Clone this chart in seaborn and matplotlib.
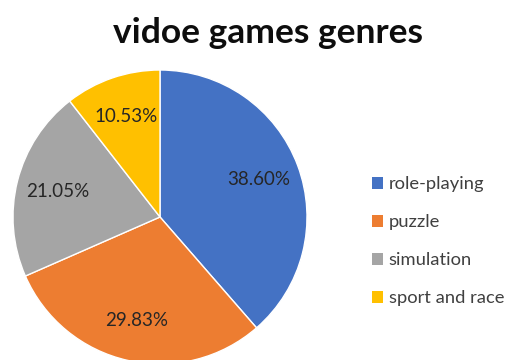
import matplotlib
matplotlib.use("Agg")
import matplotlib.pyplot as plt
from matplotlib.patches import Patch
import seaborn as sns

genres = ["role-playing", "puzzle", "simulation", "sport and race"]
shares = [38.60, 29.83, 21.05, 10.53]
colors = ["#4472C4", "#ED7D31", "#A5A5A5", "#FFC000"]
title = "vidoe games genres"

sns.set_theme(style="white")
plt.rcParams['font.family'] = ['Lato', 'DejaVu Sans']

fig = plt.figure(figsize=(5.07, 3.60), dpi=100)
ax = fig.add_axes([13/507, -4/360, 294/507, 294/360])
wedges, texts, autotexts = ax.pie(
    shares, colors=colors, startangle=90, counterclock=False,
    autopct="%.2f%%", pctdistance=0.72, radius=1.0,
    wedgeprops=dict(edgecolor="white", linewidth=1),
    textprops=dict(fontsize=13.5, color="#262626"))
ax.set_xlim(-1, 1)
ax.set_ylim(-1, 1)
ax.set_aspect("equal")
ax.axis("off")

fig.text(268/507, 1 - 33/360, title, ha="center", va="center",
         fontsize=25.5, fontweight="bold", color="#0d0d0d")

handles = [Patch(facecolor=c, edgecolor="none") for c in colors]
leg = fig.legend(handles, genres, loc="upper left",
                 bbox_to_anchor=(365/507, 1 - 169/360), frameon=False,
                 fontsize=13.2, handlelength=0.6, handleheight=0.6,
                 handletextpad=0.3, labelspacing=1.2, borderaxespad=0)
for t in leg.get_texts():
    t.set_color("#404040")

fig.savefig("out.png", dpi=100)
